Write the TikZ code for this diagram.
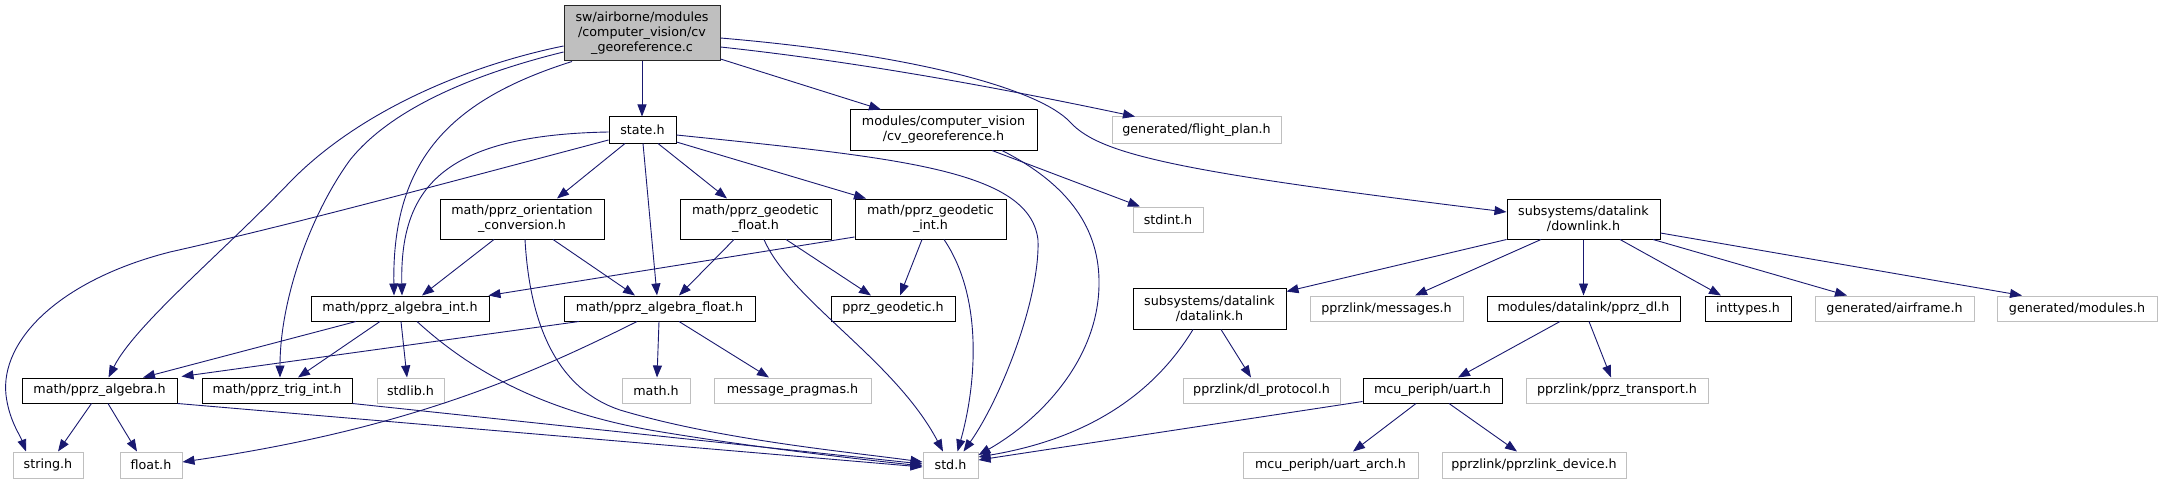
\documentclass[tikz,border=0pt]{standalone}
\usepackage{fontspec}
\setmainfont{DejaVu Sans}
\usetikzlibrary{arrows.meta}
\definecolor{mblue}{HTML}{191970}
\definecolor{extgray}{HTML}{BFBFBF}
\begin{document}
\begin{tikzpicture}[x=1pt,y=-1pt,
  box/.style={rectangle,inner sep=0pt,align=center,fill=white,line width=1pt,
    font=\fontsize{12.7}{15}\selectfont},
  doc/.style={box,draw=black},
  ext/.style={box,draw=extgray},
  rootbox/.style={box,draw=black!85,fill=extgray},
  dep/.style={draw=mblue,line width=0.9pt,-{Triangle[length=12pt,width=9pt]}}]
\fill[white] (0,0) rectangle (2162,484);
\useasboundingbox (0,0) rectangle (2162,484);

% nodes
\node[rootbox,minimum width=156pt,minimum height=55pt] (root) at (642,33.5) {sw/airborne/modules\\/computer\_vision/cv\\\_georeference.c};
\node[doc,minimum width=67pt,minimum height=26pt] (state) at (642.5,130) {state.h};
\node[doc,minimum width=187pt,minimum height=40pt] (cvh) at (943.5,130) {modules/computer\_vision\\/cv\_georeference.h};
\node[ext,minimum width=169pt,minimum height=26pt] (fplan) at (1196.5,130) {generated/flight\_plan.h};
\node[doc,minimum width=164pt,minimum height=40pt] (orient) at (522,219) {math/pprz\_orientation\\\_conversion.h};
\node[doc,minimum width=151pt,minimum height=40pt] (gfloat) at (755.5,219) {math/pprz\_geodetic\\\_float.h};
\node[doc,minimum width=151pt,minimum height=40pt] (gint) at (930.5,219) {math/pprz\_geodetic\\\_int.h};
\node[ext,minimum width=70pt,minimum height=25pt] (stdint) at (1168,219.5) {stdint.h};
\node[doc,minimum width=153pt,minimum height=40pt] (downlink) at (1583.5,219) {subsystems/datalink\\/downlink.h};
\node[doc,minimum width=178pt,minimum height=25pt] (aint) at (400,308.5) {math/pprz\_algebra\_int.h};
\node[doc,minimum width=191pt,minimum height=25pt] (afloat) at (659.5,308.5) {math/pprz\_algebra\_float.h};
\node[doc,minimum width=124pt,minimum height=25pt] (pgeo) at (893,308.5) {pprz\_geodetic.h};
\node[doc,minimum width=153pt,minimum height=41pt] (datalink) at (1209.5,308.5) {subsystems/datalink\\/datalink.h};
\node[ext,minimum width=153pt,minimum height=25pt] (messages) at (1386.5,308.5) {pprzlink/messages.h};
\node[doc,minimum width=193pt,minimum height=25pt] (pdl) at (1583.5,308.5) {modules/datalink/pprz\_dl.h};
\node[doc,minimum width=86pt,minimum height=25pt] (inttypes) at (1748,308.5) {inttypes.h};
\node[ext,minimum width=159pt,minimum height=25pt] (airframe) at (1894.5,308.5) {generated/airframe.h};
\node[ext,minimum width=160pt,minimum height=25pt] (modules) at (2077,308.5) {generated/modules.h};
\node[doc,minimum width=155pt,minimum height=25pt] (algebra) at (99.5,390.5) {math/pprz\_algebra.h};
\node[doc,minimum width=150pt,minimum height=25pt] (trig) at (277,390.5) {math/pprz\_trig\_int.h};
\node[ext,minimum width=67pt,minimum height=25pt] (stdlib) at (410.5,390.5) {stdlib.h};
\node[ext,minimum width=68pt,minimum height=25pt] (math) at (656,390.5) {math.h};
\node[ext,minimum width=157pt,minimum height=25pt] (pragmas) at (792.5,390.5) {message\_pragmas.h};
\node[ext,minimum width=157pt,minimum height=25pt] (dlproto) at (1261.5,390.5) {pprzlink/dl\_protocol.h};
\node[doc,minimum width=139pt,minimum height=25pt] (uart) at (1432.5,390.5) {mcu\_periph/uart.h};
\node[ext,minimum width=182pt,minimum height=25pt] (ptrans) at (1617,390.5) {pprzlink/pprz\_transport.h};
\node[ext,minimum width=70pt,minimum height=26pt] (string) at (48,465) {string.h};
\node[ext,minimum width=62pt,minimum height=26pt] (float) at (151,465) {float.h};
\node[ext,minimum width=55pt,minimum height=26pt] (std) at (950.5,465) {std.h};
\node[ext,minimum width=175pt,minimum height=26pt] (uarch) at (1330.5,465) {mcu\_periph/uart\_arch.h};
\node[ext,minimum width=184pt,minimum height=26pt] (pdev) at (1534,465) {pprzlink/pprzlink\_device.h};

% root edges
\draw[dep] (root.south) -- ([xshift=-0.5pt]state.north);
\draw[dep] ([yshift=-25.5pt]root.east) -- ([xshift=-62.5pt]cvh.north);
\draw[dep] ([yshift=-13.5pt]root.east) .. controls (860,62) and (1000,88) .. ([xshift=-61.5pt]fplan.north);
\draw[dep] ([yshift=-4.5pt]root.east) .. controls (920,55) and (1040,90) .. (1070,122)
   .. controls (1100,155) and (1180,172) .. ([yshift=7pt]downlink.west);
\draw[dep] ([xshift=-70pt]root.south) .. controls (450,100) and (392,160) .. ([xshift=-6pt]aint.north);
\draw[dep] ([yshift=-18.5pt]root.west) .. controls (470,75) and (390,110) .. (350,160)
   .. controls (310,215) and (280,300) .. ([xshift=3pt]trig.north);
\draw[dep] ([yshift=-12.5pt]root.west) .. controls (470,65) and (360,110) .. (290,182)
   .. controls (220,255) and (135,325) .. ([xshift=9pt]algebra.north);

% state edges
\draw[dep] ([xshift=-17.5pt]state.south) -- ([xshift=35pt]orient.north);
\draw[dep] ([xshift=15.5pt]state.south) -- ([xshift=-28.5pt]gfloat.north);
\draw[dep] ([yshift=-12pt]state.east) -- ([xshift=-64.5pt]gint.north);
\draw[dep] ([yshift=-5pt]state.east) .. controls (900,158) and (1030,170) .. (1038,240)
   .. controls (1040,300) and (1000,400) .. ([xshift=13pt]std.north);
\draw[dep] ([yshift=-2pt]state.west) .. controls (440,135) and (400,190) .. ([xshift=2pt]aint.north);
\draw[dep] ([yshift=-10pt]state.west) .. controls (420,190) and (290,225) .. (170,252)
   .. controls (60,280) and (0,340) .. (6,395) .. controls (9,420) and (20,435) .. ([xshift=-22pt]string.north);
\draw[dep] ([xshift=0.5pt]state.south) -- ([xshift=-2.5pt]afloat.north);

% cv_georeference.h edges
\draw[dep] ([xshift=48.5pt]cvh.south) -- ([xshift=-28pt]stdint.north);
\draw[dep] ([xshift=58.5pt]cvh.south) .. controls (1070,185) and (1100,230) .. (1099,285)
   .. controls (1098,360) and (1040,420) .. ([yshift=10pt]std.east);

% orientation edges
\draw[dep] ([xshift=-28pt]orient.south) -- ([xshift=22pt]aint.north);
\draw[dep] ([xshift=31pt]orient.south) -- ([xshift=-24.5pt]afloat.north);
\draw[dep] ([xshift=3pt]orient.south) .. controls (530,330) and (560,390) .. (620,410)
   .. controls (720,440) and (850,452) .. ([yshift=3pt]std.west);

% geodetic float edges
\draw[dep] ([xshift=-21.5pt]gfloat.south) -- ([xshift=19.5pt]afloat.north);
\draw[dep] ([xshift=30.5pt]gfloat.south) -- ([xshift=-22pt]pgeo.north);
\draw[dep] ([xshift=8.5pt]gfloat.south) .. controls (790,300) and (895,360) .. ([xshift=-7.5pt]std.north);

% geodetic int edges
\draw[dep] ([yshift=-18pt]gint.west) -- ([xshift=-1pt]aint.north east);
\draw[dep] ([xshift=-8.5pt]gint.south) -- ([xshift=7pt]pgeo.north);
\draw[dep] ([xshift=13.5pt]gint.south) .. controls (985,300) and (975,390) .. ([xshift=7pt]std.north);

% algebra int edges
\draw[dep] ([xshift=-44pt]aint.south) -- ([xshift=43.5pt]algebra.north);
\draw[dep] ([xshift=-20pt]aint.south) -- ([xshift=21pt]trig.north);
\draw[dep] ([xshift=1pt]aint.south) -- ([xshift=-3.5pt]stdlib.north);
\draw[dep] ([xshift=17pt]aint.south) .. controls (470,370) and (540,410) .. (650,430)
   .. controls (750,447) and (850,458) .. ([yshift=-1pt]std.west);

% algebra float edges
\draw[dep] ([xshift=-80.5pt]afloat.south) -- ([xshift=4pt,yshift=1pt]algebra.north east);
\draw[dep] ([xshift=-22.5pt]afloat.south) .. controls (520,380) and (400,430) .. ([yshift=3pt]float.east);
\draw[dep] ([xshift=-0.5pt]afloat.south) -- ([xshift=1pt]math.north);
\draw[dep] ([xshift=19.5pt]afloat.south) -- ([xshift=-23.5pt]pragmas.north);

% algebra edges
\draw[dep] ([xshift=-8pt]algebra.south) -- ([xshift=10pt]string.north);
\draw[dep] ([xshift=8.5pt]algebra.south) -- ([xshift=-14pt]float.north);
\draw[dep] (algebra.south east) -- ([yshift=-2pt]std.west);

% trig edge
\draw[dep] (trig.south east) -- ([yshift=1pt]std.west);

% downlink edges
\draw[dep] (downlink.south west) -- ([yshift=17pt]datalink.east);
\draw[dep] ([xshift=-42.5pt]downlink.south) -- ([xshift=28.5pt]messages.north);
\draw[dep] (downlink.south) -- (pdl.north);
\draw[dep] ([xshift=36.5pt]downlink.south) -- ([xshift=-27pt]inttypes.north);
\draw[dep] ([xshift=69.5pt]downlink.south) -- ([xshift=-47.5pt]airframe.north);
\draw[dep] ([yshift=-14pt]downlink.east) -- ([xshift=-55pt]modules.north);

% datalink edges
\draw[dep] ([xshift=-16.5pt]datalink.south) .. controls (1150,400) and (1080,440) .. ([yshift=8pt]std.east);
\draw[dep] ([xshift=11.5pt]datalink.south) -- ([xshift=-10.5pt]dlproto.north);

% pprz_dl edges
\draw[dep] ([xshift=-23.5pt]pdl.south) -- ([xshift=25.5pt]uart.north);
\draw[dep] ([xshift=5.5pt]pdl.south) -- ([xshift=-6pt]ptrans.north);

% uart edges
\draw[dep] ([yshift=-11pt]uart.west) -- ([yshift=5pt]std.east);
\draw[dep] ([xshift=-16.5pt]uart.south) -- ([xshift=22.5pt]uarch.north);
\draw[dep] ([xshift=16.5pt]uart.south) -- ([xshift=-17pt]pdev.north);
\end{tikzpicture}
\end{document}
